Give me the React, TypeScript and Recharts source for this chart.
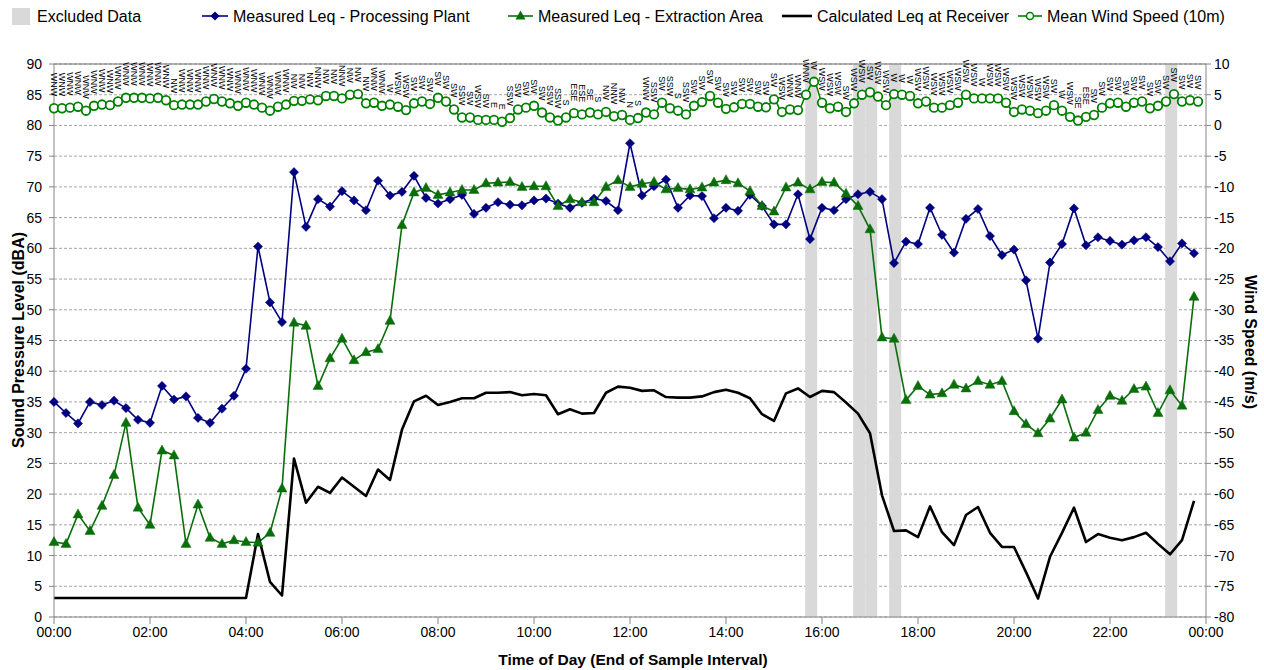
import React from 'react';
import {
  ComposedChart,
  Line,
  XAxis,
  YAxis,
  CartesianGrid,
  ReferenceArea,
  ReferenceLine,
  LabelList,
} from 'recharts';

// ---- 15-minute sound level data (end of interval, 00:00 .. 23:45) ----
const PLANT: number[] = [
  35.0, 33.2, 31.5, 35.0, 34.5, 35.2, 34.0, 32.1, 31.6, 37.6,
  35.4, 35.9, 32.4, 31.6, 33.9, 36.0, 40.4, 60.3, 51.2, 48.0,
  72.4, 63.5, 68.0, 66.8, 69.3, 67.8, 66.2, 71.0, 68.6, 69.2,
  71.8, 68.2, 67.3, 68.0, 68.7, 65.6, 66.6, 67.5, 67.1, 67.0,
  67.8, 68.1, 67.3, 66.6, 67.4, 68.1, 67.7, 66.2, 77.1, 68.6,
  70.1, 71.2, 66.6, 68.6, 68.5, 64.9, 66.6, 66.1, 68.7, 66.9,
  63.9, 63.9, 68.8, 61.5, 66.6, 66.2, 68.0, 68.8, 69.2, 68.0,
  57.6, 61.1, 60.7, 66.6, 62.2, 59.3, 64.8, 66.4, 62.0, 58.9,
  59.8, 54.8, 45.3, 57.7, 60.7, 66.5, 60.5, 61.8, 61.2, 60.6,
  61.3, 61.8, 60.2, 57.9, 60.8, 59.2,
];

const EXTRACTION: number[] = [
  12.2, 11.9, 16.7, 14.0, 18.1, 23.1, 31.6, 17.8, 15.0, 27.1,
  26.3, 11.9, 18.3, 12.9, 11.9, 12.5, 12.2, 12.1, 13.7, 20.9,
  47.9, 47.4, 37.6, 42.1, 45.3, 41.8, 43.1, 43.6, 48.2, 63.8,
  69.1, 69.8, 68.7, 69.1, 69.5, 69.5, 70.6, 70.7, 70.8, 70.0,
  70.1, 70.1, 66.9, 68.0, 67.5, 67.5, 70.0, 71.1, 70.0, 70.5,
  70.8, 69.6, 69.8, 69.6, 69.9, 70.7, 71.1, 70.6, 69.3, 66.9,
  66.0, 69.9, 70.7, 69.6, 70.8, 70.7, 68.9, 66.9, 63.1, 45.5,
  45.3, 35.3, 37.6, 36.2, 36.4, 37.8, 37.2, 38.4, 37.8, 38.4,
  33.5, 31.4, 29.9, 32.3, 35.4, 29.2, 30.0, 33.7, 36.0, 35.2,
  37.1, 37.5, 33.2, 36.9, 34.4, 52.1,
];

const RECEIVER: number[] = [
  3.1, 3.1, 3.1, 3.1, 3.1, 3.1, 3.1, 3.1, 3.1, 3.1,
  3.1, 3.1, 3.1, 3.1, 3.1, 3.1, 3.1, 13.5, 5.7, 3.5,
  25.8, 18.6, 21.2, 20.2, 22.7, 21.2, 19.7, 24.0, 22.3, 30.5,
  35.1, 36.0, 34.5, 35.0, 35.6, 35.6, 36.5, 36.5, 36.6, 36.1,
  36.3, 36.1, 33.0, 33.8, 33.1, 33.2, 36.5, 37.5, 37.3, 36.8,
  36.9, 35.8, 35.7, 35.7, 35.9, 36.6, 37.0, 36.5, 35.6, 33.0,
  31.9, 36.4, 37.2, 35.8, 36.8, 36.6, 34.9, 33.1, 29.9, 19.8,
  14.0, 14.1, 13.0, 18.0, 13.8, 11.7, 16.6, 17.9, 13.7, 11.4,
  11.4, 7.3, 3.0, 9.8, 13.7, 17.8, 12.2, 13.5, 12.9, 12.5,
  13.0, 13.7, 11.9, 10.2, 12.5, 18.9,
];

// ---- 10-minute wind data (00:00 .. 23:50) ----
const WIND_SPEED: number[] = [
  2.8, 2.8, 2.9, 3.05, 2.4, 3.2, 3.4, 3.3, 3.9, 4.5,
  4.5, 4.5, 4.4, 4.5, 4.1, 3.3, 3.4, 3.4, 3.4, 3.9,
  4.3, 3.9, 3.6, 3.2, 3.7, 3.4, 2.9, 2.4, 3.05, 3.4,
  4.0, 4.0, 4.25, 4.1, 4.8, 4.8, 4.4, 5.0, 5.1, 3.6,
  3.7, 3.2, 3.4, 3.05, 2.5, 3.6, 3.9, 3.5, 4.5, 3.9,
  2.6, 1.3, 1.3, 0.9, 0.9, 0.9, 0.6, 1.2, 2.6, 2.9,
  3.2, 2.1, 1.3, 0.8, 1.3, 2.0, 1.8, 2.1, 1.8, 2.2,
  1.5, 1.7, 0.9, 1.2, 2.1, 1.8, 3.7, 2.8, 2.4, 1.8,
  3.2, 3.8, 4.8, 3.7, 2.7, 2.95, 3.5, 3.5, 3.05, 2.95,
  4.25, 2.2, 2.6, 2.5, 5.0, 7.1, 3.7, 2.8, 3.05, 2.2,
  3.6, 5.0, 5.4, 4.7, 3.3, 5.1, 5.0, 4.8, 3.6, 3.9,
  2.9, 2.9, 3.3, 3.7, 5.0, 4.4, 4.4, 4.4, 4.4, 3.7,
  2.2, 2.6, 2.4, 2.0, 2.4, 3.3, 2.4, 1.4, 0.8, 1.4,
  1.7, 2.9, 3.6, 3.7, 3.05, 3.7, 3.9, 2.8, 3.2, 3.9,
  5.1, 3.9, 4.1, 3.9,
];

const WIND_DIR: string[] = [
  'WNW', 'WNW', 'WNW', 'WNW', 'WNW', 'WNW', 'WNW', 'WNW', 'WNW', 'WNW',
  'WNW', 'WNW', 'WNW', 'WNW', 'WNW', 'NW', 'WNW', 'WNW', 'WNW', 'WNW',
  'WNW', 'WNW', 'WNW', 'WNW', 'WNW', 'WNW', 'WNW', 'WNW', 'WNW', 'WNW',
  'NW', 'NW', 'NW', 'NNW', 'NW', 'NW', 'NNW', 'NW', 'NW', 'NW',
  'WNW', 'WNW', 'W', 'WSW', 'WSW', 'SW', 'SW', 'SW', 'SW', 'SW',
  'SW', 'SSW', 'SW', 'WSW', 'SW', 'E', 'E', 'SSW', 'SW', 'SW',
  'SW', 'SW', 'SSW', 'SSW', 'S', 'ESE', 'ESE', 'SE', 'S', 'NW',
  'NNW', 'NW', 'N', 'S', 'WNW', 'SSW', 'SW', 'SSW', 'S', 'SSW',
  'SW', 'SW', 'SW', 'SW', 'SW', 'SW', 'SW', 'SW', 'SW', 'SW',
  'SW', 'WSW', 'WNW', 'WNW', 'WNW', 'W', 'WSW', 'WSW', 'WSW', 'SW',
  'WSW', 'WSW', 'SW', 'WSW', 'WSW', 'W', 'W', 'W', 'WSW', 'WSW',
  'WSW', 'WSW', 'WSW', 'WSW', 'WSW', 'WSW', 'W', 'WSW', 'WSW', 'WSW',
  'WSW', 'WSW', 'WSW', 'WSW', 'WSW', 'SW', 'W', 'WSW', 'SE', 'ESE',
  'SW', 'SW', 'SW', 'SW', 'SW', 'SW', 'SW', 'SW', 'SW', 'SW',
  'SW', 'SW', 'SW', 'SW',
];

// 15-minute intervals flagged as excluded
const EXCLUDED: string[] = ['15:45', '16:45', '17:00', '17:30', '23:15'];

const X_TICK_LABELS: string[] = [
  '00:00', '02:00', '04:00', '06:00', '08:00', '10:00', '12:00',
  '14:00', '16:00', '18:00', '20:00', '22:00', '24:00',
];
const LEFT_TICKS: number[] = [0, 5, 10, 15, 20, 25, 30, 35, 40, 45, 50, 55, 60, 65, 70, 75, 80, 85, 90];
const RIGHT_TICKS: number[] = [10, 5, 0, -5, -10, -15, -20, -25, -30, -35, -40, -45, -50, -55, -60, -65, -70, -75, -80];

const LEQ_STEP = 15; // minutes
const WIND_STEP = 10; // minutes

const toMin = (s: string) => {
  const [h, m] = s.split(':').map(Number);
  return h * 60 + m;
};
const fmt = (m: number) => {
  const mm = m % 1440;
  const h = Math.floor(mm / 60);
  const mi = mm % 60;
  return `${String(h).padStart(2, '0')}:${String(mi).padStart(2, '0')}`;
};

const leqData = PLANT.map((v, i) => ({
  t: i * LEQ_STEP,
  plant: v,
  extraction: EXTRACTION[i],
  receiver: RECEIVER[i],
}));
const windData = WIND_SPEED.map((v, i) => ({ t: i * WIND_STEP, speed: v, dir: WIND_DIR[i] }));

const xTicks = X_TICK_LABELS.map(toMin);
const minorXTicks: number[] = [];
for (let m = 0; m <= 1440; m += LEQ_STEP) minorXTicks.push(m);
const minorRTicks: number[] = [];
for (let v = -80; v <= 10; v += 1) minorRTicks.push(v);

const FONT = '"Liberation Sans", Arial, sans-serif';
const BLUE = '#000080';
const GREEN = '#0a6e0a';
const WIND = '#008000';
const AXIS = '#868686';

const Diamond = (p: any) => {
  const { cx, cy, index } = p;
  if (cx == null || cy == null) return <g key={`d${index}`} />;
  const r = 4.6;
  return (
    <polygon
      key={`d${index}`}
      points={`${cx},${cy - r} ${cx + r},${cy} ${cx},${cy + r} ${cx - r},${cy}`}
      fill={BLUE}
      stroke={BLUE}
      strokeWidth={0.5}
    />
  );
};

const Triangle = (p: any) => {
  const { cx, cy, index } = p;
  if (cx == null || cy == null) return <g key={`t${index}`} />;
  return (
    <polygon
      key={`t${index}`}
      points={`${cx},${cy - 5.5} ${cx + 5},${cy + 3.5} ${cx - 5},${cy + 3.5}`}
      fill={GREEN}
      stroke={GREEN}
      strokeWidth={0.5}
    />
  );
};

const Ring = (p: any) => {
  const { cx, cy, index } = p;
  if (cx == null || cy == null) return <g key={`c${index}`} />;
  return <circle key={`c${index}`} cx={cx} cy={cy} r={4.3} fill="#fff" stroke={WIND} strokeWidth={1.8} />;
};

const DirLabel = (p: any) => {
  const x = p.x ?? p.viewBox?.x;
  const y = p.y ?? p.viewBox?.y;
  if (x == null || y == null) return null;
  const ay = y - 12;
  return (
    <text
      x={x}
      y={ay}
      transform={`rotate(90 ${x} ${ay})`}
      textAnchor="end"
      dy="0.35em"
      fontSize={9}
      fontFamily={FONT}
      fill="#000"
    >
      {p.value}
    </text>
  );
};

const EmptyTick = () => <g />;

export default function App() {
  return (
    <div style={{ position: 'absolute', left: 0, top: 0, width: 1264, height: 670, background: '#fff', fontFamily: FONT }}>
      <ComposedChart width={1264} height={670} margin={{ top: 64, right: 0, left: 0, bottom: 0 }}>
        <CartesianGrid xAxisId="x" yAxisId="L" vertical={false} stroke="#a6a6a6" strokeDasharray="3 2" />
        {EXCLUDED.map((s) => (
          <ReferenceArea
            key={s}
            xAxisId="x"
            yAxisId="L"
            x1={toMin(s) - LEQ_STEP / 2 + 1.5}
            x2={toMin(s) + LEQ_STEP / 2 + 1.5}
            y1={0}
            y2={90}
            fill="#d9d9d9"
            fillOpacity={1}
            stroke="none"
          />
        ))}
        <XAxis
          xAxisId="xm"
          type="number"
          dataKey="t"
          domain={[0, 1440]}
          ticks={minorXTicks}
          tick={EmptyTick}
          tickSize={4}
          tickLine={{ stroke: AXIS }}
          axisLine={false}
          height={0}
          interval={0}
        />
        <XAxis
          xAxisId="x"
          type="number"
          dataKey="t"
          domain={[0, 1440]}
          ticks={xTicks}
          interval={0}
          tickFormatter={fmt}
          tick={{ fill: '#000', fontSize: 14, fontFamily: FONT }}
          tickSize={7}
          tickMargin={3}
          tickLine={{ stroke: AXIS }}
          axisLine={{ stroke: AXIS }}
          height={53}
        />
        <YAxis
          yAxisId="L"
          domain={[0, 90]}
          ticks={LEFT_TICKS}
          interval={0}
          width={54}
          tickSize={5}
          tickMargin={7}
          tick={{ fill: '#000', fontSize: 14, fontFamily: FONT }}
          tickLine={{ stroke: AXIS }}
          axisLine={{ stroke: AXIS }}
          allowDataOverflow
        />
        <YAxis
          yAxisId="Rm"
          orientation="right"
          domain={[-80, 10]}
          ticks={minorRTicks}
          interval={0}
          width={0}
          tickSize={3}
          tick={EmptyTick}
          tickLine={{ stroke: AXIS }}
          axisLine={false}
          allowDataOverflow
        />
        <YAxis
          yAxisId="R"
          orientation="right"
          domain={[-80, 10]}
          ticks={RIGHT_TICKS}
          interval={0}
          width={58}
          tickSize={5}
          tickMargin={3}
          tick={{ fill: '#000', fontSize: 14, fontFamily: FONT }}
          tickLine={{ stroke: AXIS }}
          axisLine={{ stroke: AXIS }}
          allowDataOverflow
        />
        <ReferenceLine xAxisId="x" yAxisId="L" y={90} stroke="#707070" strokeWidth={1.2} />
        <Line
          xAxisId="x"
          yAxisId="L"
          data={leqData}
          dataKey="plant"
          type="linear"
          stroke={BLUE}
          strokeWidth={1.6}
          dot={Diamond}
          activeDot={false}
          isAnimationActive={false}
        />
        <Line
          xAxisId="x"
          yAxisId="L"
          data={leqData}
          dataKey="extraction"
          type="linear"
          stroke={GREEN}
          strokeWidth={1.6}
          dot={Triangle}
          activeDot={false}
          isAnimationActive={false}
        />
        <Line
          xAxisId="x"
          yAxisId="L"
          data={leqData}
          dataKey="receiver"
          type="linear"
          stroke="#000"
          strokeWidth={2.6}
          strokeLinejoin="round"
          dot={false}
          activeDot={false}
          isAnimationActive={false}
        />
        <Line
          xAxisId="x"
          yAxisId="R"
          data={windData}
          dataKey="speed"
          type="monotone"
          stroke={WIND}
          strokeWidth={1.6}
          dot={Ring}
          activeDot={false}
          isAnimationActive={false}
        >
          <LabelList dataKey="dir" content={DirLabel} />
        </Line>
      </ComposedChart>

      <svg width={1264} height={670} style={{ position: 'absolute', left: 0, top: 0, pointerEvents: 'none' }} fontFamily={FONT}>
        {/* legend */}
        <rect x={12} y={8} width={18} height={17} fill="#d9d9d9" />
        <text x={37} y={16} dominantBaseline="central" fontSize={16}>Excluded Data</text>
        <line x1={202} x2={228} y1={16} y2={16} stroke={BLUE} strokeWidth={1.6} />
        <polygon points="215,11.4 219.6,16 215,20.6 210.4,16" fill={BLUE} />
        <text x={233} y={16} dominantBaseline="central" fontSize={16}>Measured Leq - Processing Plant</text>
        <line x1={508} x2={533} y1={16} y2={16} stroke={GREEN} strokeWidth={1.6} />
        <polygon points="520.5,10.5 525.5,19.5 515.5,19.5" fill={GREEN} />
        <text x={538} y={16} dominantBaseline="central" fontSize={16}>Measured Leq - Extraction Area</text>
        <line x1={782} x2={812} y1={16} y2={16} stroke="#000" strokeWidth={2.6} />
        <text x={817} y={16} dominantBaseline="central" fontSize={16}>Calculated Leq at Receiver</text>
        <line x1={1018} x2={1042} y1={16} y2={16} stroke={WIND} strokeWidth={1.6} />
        <circle cx={1030} cy={16} r={3.5} fill="#fff" stroke={WIND} strokeWidth={1.5} />
        <text x={1047} y={16} dominantBaseline="central" fontSize={16}>Mean Wind Speed (10m)</text>

        {/* axis titles */}
        <text x={18} y={340} transform="rotate(-90 18 340)" textAnchor="middle" dominantBaseline="central" fontSize={16} fontWeight="bold">
          Sound Pressure Level (dBA)
        </text>
        <text x={1250} y={342} transform="rotate(90 1250 342)" textAnchor="middle" dominantBaseline="central" fontSize={16} fontWeight="bold">
          Wind Speed (m/s)
        </text>
        <text x={633} y={659} textAnchor="middle" dominantBaseline="central" fontSize={15.5} fontWeight="bold">
          Time of Day (End of Sample Interval)
        </text>
      </svg>
    </div>
  );
}
